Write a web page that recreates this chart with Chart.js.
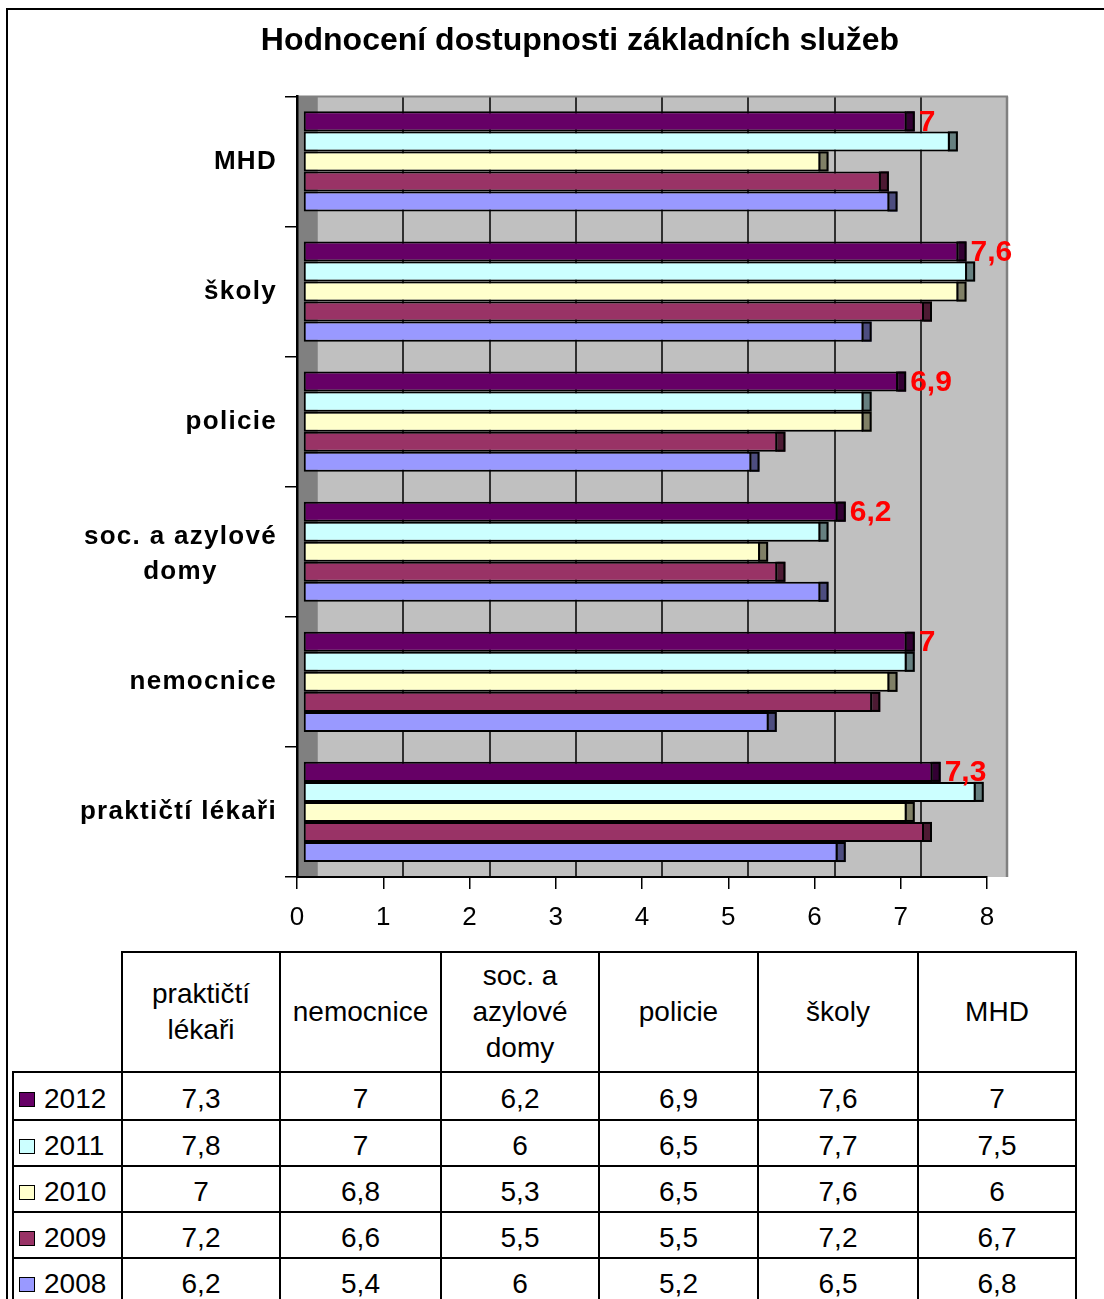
<!DOCTYPE html>
<html lang="cs">
<head>
<meta charset="utf-8">
<title>Hodnocení dostupnosti základních služeb</title>
<script src="https://cdn.jsdelivr.net/npm/chart.js@4.4.1/dist/chart.umd.min.js"></script>
<style>
  html, body { margin: 0; padding: 0; background: #fff; overflow: hidden; }
  body { width: 1104px; height: 1299px; position: relative; font-family: "Liberation Sans", Arial, sans-serif; }
  .frame { position: absolute; left: 6px; top: 8px; width: 1120px; height: 1320px; border: 2px solid #000; }
  #chart { position: absolute; left: 0; top: 0; }
  table.data { position: absolute; left: 12px; top: 951px; width: 1063px; border-collapse: collapse; table-layout: fixed; font-size: 28px; color: #000; }
  table.data th, table.data td { border: 2px solid #000; text-align: center; vertical-align: middle; padding: 0 6px; }
  table.data td { padding-top: 6px; padding-bottom: 0; }
  table.data th { font-weight: normal; line-height: 36px; }
  table.data th.corner { border-top: none; border-left: none; }
  table.data tr.head { height: 120px; }
  table.data tr.row { height: 46px; }
  table.data tr.first { height: 48px; }
  table.data td.year { text-align: left; padding-left: 5px; white-space: nowrap; }
  .key { display: inline-block; width: 14px; height: 13px; border: 1px solid #000; margin-right: 9px; vertical-align: 1px; }
</style>
</head>
<body>
<div class="frame"></div>
<canvas id="chart" width="1104" height="945"></canvas>
<table class="data" id="dataTable">
  <colgroup>
    <col style="width:109px"><col style="width:158px"><col style="width:161px"><col style="width:158px">
    <col style="width:159px"><col style="width:160px"><col style="width:158px">
  </colgroup>
  <tbody></tbody>
</table>
<script>
// data, in the order of the data table (chart shows it bottom-up)
const categories = ['praktičtí lékaři', 'nemocnice', 'soc. a azylové domy', 'policie', 'školy', 'MHD'];
const years = ['2012', '2011', '2010', '2009', '2008'];
const values2012 = [7.3, 7, 6.2, 6.9, 7.6, 7];
const values2011 = [7.8, 7, 6, 6.5, 7.7, 7.5];
const values2010 = [7, 6.8, 5.3, 6.5, 7.6, 6];
const values2009 = [7.2, 6.6, 5.5, 5.5, 7.2, 6.7];
const values2008 = [6.2, 5.4, 6, 5.2, 6.5, 6.8];
const allValues = [values2012, values2011, values2010, values2009, values2008];
const xMin = 0;
const xMax = 8;

const seriesColors = ['#660066', '#CCFFFF', '#FFFFCC', '#993366', '#9999FF'];
const fontFamily = '"Liberation Sans", Arial, sans-serif';
const wallDepth = 20;   // back wall offset
const barShift = 6;     // bars sit in front of the axis
const capWidth = 8;     // visible side of the 3d bar

function fmt(v) {
  return String(v).replace('.', ',');
}

function shade(hex, f) {
  const n = parseInt(hex.slice(1), 16);
  const r = Math.round(((n >> 16) & 255) * f);
  const g = Math.round(((n >> 8) & 255) * f);
  const b = Math.round((n & 255) * f);
  return `rgb(${r},${g},${b})`;
}

function wrapText(ctx, text, maxWidth) {
  const words = text.split(' ');
  const lines = [];
  let cur = '';
  words.forEach(w => {
    const test = cur ? cur + ' ' + w : w;
    if (cur && ctx.measureText(test).width > maxWidth) {
      lines.push(cur);
      cur = w;
    } else {
      cur = test;
    }
  });
  lines.push(cur);
  return lines;
}

// grey walls with the gridlines drawn on the back wall
const wallPlugin = {
  id: 'wall',
  beforeDraw(chart) {
    const { ctx, chartArea: a, scales: { x } } = chart;
    ctx.save();
    ctx.fillStyle = '#808080';
    ctx.fillRect(a.left, a.top, wallDepth, a.bottom - a.top);
    ctx.fillStyle = '#C0C0C0';
    ctx.fillRect(a.left + wallDepth, a.top, a.right - a.left, a.bottom - a.top);
    x.ticks.forEach((t, i) => {
      const px = Math.round(x.getPixelForValue(t.value)) + wallDepth;
      ctx.strokeStyle = (i === 0 || i === x.ticks.length - 1) ? '#808080' : '#000';
      ctx.lineWidth = i === x.ticks.length - 1 ? 2.5 : 1.5;
      ctx.beginPath();
      ctx.moveTo(px, a.top);
      ctx.lineTo(px, a.bottom);
      ctx.stroke();
    });
    ctx.strokeStyle = '#808080';
    ctx.lineWidth = 2;
    ctx.beginPath();
    ctx.moveTo(a.left, a.top);
    ctx.lineTo(a.right + wallDepth + 1, a.top);
    ctx.stroke();
    ctx.restore();
  }
};

// bar ends (3d side) and the red value labels of 2012
const depthPlugin = {
  id: 'depth',
  beforeDatasetsDraw(chart) {
    chart.ctx.save();
    chart.ctx.translate(barShift, 0);
  },
  afterDatasetsDraw(chart) {
    const ctx = chart.ctx;
    ctx.lineWidth = 2;
    ctx.strokeStyle = '#000';
    chart.data.datasets.forEach((ds, di) => {
      chart.getDatasetMeta(di).data.forEach(bar => {
        const top = bar.y - bar.height / 2;
        ctx.fillStyle = shade(ds.backgroundColor, 0.5);
        ctx.fillRect(bar.x, top, capWidth, bar.height);
        ctx.strokeRect(bar.x - 1, top + 1, capWidth, bar.height - 2);
      });
    });
    ctx.restore();

    ctx.save();
    ctx.font = 'bold 30px ' + fontFamily;
    ctx.fillStyle = '#FF0000';
    ctx.textAlign = 'left';
    ctx.textBaseline = 'middle';
    const ds0 = chart.data.datasets[0];
    chart.getDatasetMeta(0).data.forEach((bar, i) => {
      ctx.fillText(fmt(ds0.data[i]), bar.x + barShift + capWidth + 4, bar.y + 1);
    });
    ctx.restore();
  }
};

// category names: right aligned block, lines centred in it
const categoryLabels = {
  id: 'categoryLabels',
  afterDraw(chart) {
    const { ctx, scales: { y } } = chart;
    ctx.save();
    ctx.font = 'bold 26px ' + fontFamily;
    ctx.letterSpacing = '1.3px';
    ctx.fillStyle = '#000';
    ctx.textAlign = 'center';
    ctx.textBaseline = 'middle';
    chart.data.labels.forEach((label, i) => {
      const lines = wrapText(ctx, label, 205);
      const w = Math.max(...lines.map(l => ctx.measureText(l).width));
      const cx = y.right - 20 - w / 2;
      const cy = y.getPixelForTick(i) + (lines.length > 1 ? 3 : 0);
      lines.forEach((l, k) => {
        ctx.fillText(l, cx, cy + (k - (lines.length - 1) / 2) * 35);
      });
    });
    ctx.restore();
  }
};

Chart.defaults.font.family = fontFamily;
Chart.defaults.color = '#000';

const chartLabels = categories.slice().reverse();
const datasets = years.map((year, i) => ({
  label: year,
  data: allValues[i].slice().reverse(),
  backgroundColor: seriesColors[i],
  borderColor: '#000',
  borderWidth: 2,
  borderSkipped: false,
  categoryPercentage: 0.77,
  barPercentage: 1.0,
  clip: false
}));

new Chart(document.getElementById('chart'), {
  type: 'bar',
  data: { labels: chartLabels, datasets: datasets },
  options: {
    indexAxis: 'y',
    responsive: false,
    animation: false,
    devicePixelRatio: 1,
    layout: { padding: { left: 173, right: 117, top: 0, bottom: 0 } },
    plugins: {
      legend: { display: false },
      tooltip: { enabled: false },
      title: {
        display: true,
        text: 'Hodnocení dostupnosti základních služeb',
        color: '#000',
        font: { size: 32, weight: 'bold' },
        padding: { top: 22, bottom: 36 }
      }
    },
    scales: {
      x: {
        min: xMin,
        max: xMax,
        ticks: { stepSize: 1, font: { size: 26 }, color: '#000', padding: 13 },
        grid: { drawOnChartArea: false, color: '#000', tickLength: 12, lineWidth: 1.5 },
        border: { color: '#000', width: 2 },
        afterFit(scale) { scale.height = 68; }
      },
      y: {
        offset: true,
        ticks: { display: false },
        grid: { drawOnChartArea: false, offset: true, color: '#000', tickLength: 12, lineWidth: 1.5 },
        border: { color: '#000', width: 2.5 },
        afterFit(scale) { scale.width = 124; }
      }
    }
  },
  plugins: [wallPlugin, depthPlugin, categoryLabels]
});

// data table under the chart
const tbody = document.querySelector('#dataTable tbody');
const head = document.createElement('tr');
head.className = 'head';
const corner = document.createElement('th');
corner.className = 'corner';
head.appendChild(corner);
categories.forEach(c => {
  const th = document.createElement('th');
  th.textContent = c;
  head.appendChild(th);
});
tbody.appendChild(head);

years.forEach((year, i) => {
  const tr = document.createElement('tr');
  tr.className = i === 0 ? 'row first' : 'row';
  const td = document.createElement('td');
  td.className = 'year';
  const key = document.createElement('span');
  key.className = 'key';
  key.style.background = seriesColors[i];
  td.appendChild(key);
  td.appendChild(document.createTextNode(year));
  tr.appendChild(td);
  allValues[i].forEach(v => {
    const cell = document.createElement('td');
    cell.textContent = fmt(v);
    tr.appendChild(cell);
  });
  tbody.appendChild(tr);
});
</script>
</body>
</html>
